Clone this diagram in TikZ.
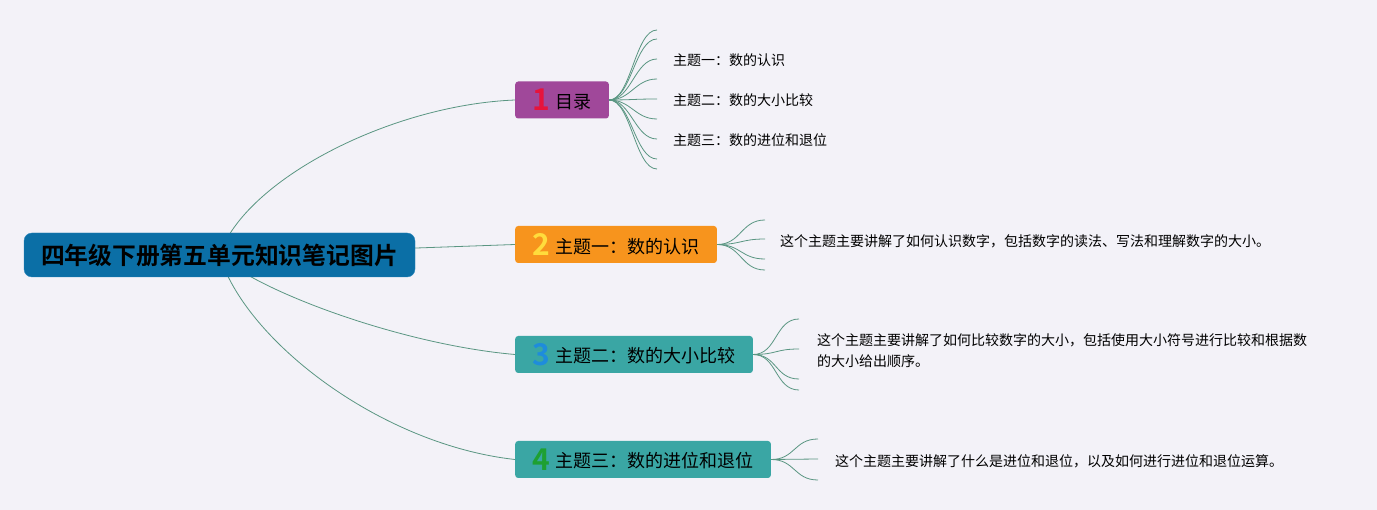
\documentclass[tikz,border=0pt]{standalone}
\usepackage{fontspec}
\setmainfont{Noto Sans CJK SC}[BoldFont={Noto Sans CJK SC Bold}]
\usetikzlibrary{positioning,calc,backgrounds}

\definecolor{bgcol}{HTML}{F3F2F8}
\definecolor{rootblue}{HTML}{0B6FA6}
\definecolor{rootedge}{HTML}{2A86BC}
\definecolor{purp}{HTML}{A0489A}
\definecolor{orng}{HTML}{F7941D}
\definecolor{tealbox}{HTML}{3AA6A4}
\definecolor{linkcol}{HTML}{5A9682}
\definecolor{numred}{HTML}{E6143C}
\definecolor{numyellow}{HTML}{FFDC3C}
\definecolor{numblue}{HTML}{1E8CDC}
\definecolor{numgreen}{HTML}{1EA032}

\tikzset{
  topic/.style={rounded corners=3pt, minimum height=37pt, inner xsep=17pt, inner ysep=0pt,
    anchor=west, font=\fontsize{18}{20}\selectfont},
  leaf/.style={anchor=west, inner sep=0pt, align=left, font=\fontsize{14}{21}\selectfont},
  link/.style={draw=linkcol, line width=0.8pt},
}
\newcommand{\numtag}[2]{\raisebox{-2.5pt}{\color{#1}\fontsize{30}{30}\selectfont\bfseries #2}\hspace{6pt}}

\begin{document}
\begin{tikzpicture}[x=1pt,y=-1pt]
    \useasboundingbox (0,0) rectangle (1377,510);

    % Central topic
    \node[fill=rootblue, draw=rootedge, rounded corners=8pt, minimum height=44pt,
      inner xsep=17pt, inner ysep=0pt, font=\fontsize{23.8}{26}\selectfont\bfseries]
      (root) at (219.5,255) {四年级下册第五单元知识笔记图片};

    % Main branches
    \node[topic, fill=purp] (mulu) at (515,100) {\numtag{numred}{1}目录};
    \node[topic, fill=orng] (renshi) at (515,244.5) {\numtag{numyellow}{2}主题一：数的认识};
    \node[topic, fill=tealbox] (bijiao) at (515,354.5) {\numtag{numblue}{3}主题二：数的大小比较};
    \node[topic, fill=tealbox] (jinwei) at (515,459.5) {\numtag{numgreen}{4}主题三：数的进位和退位};

    % Leaf texts
    \node[leaf] (mulu1) at (673,60) {主题一：数的认识};
    \node[leaf] (mulu2) at (673,100) {主题二：数的大小比较};
    \node[leaf] (mulu3) at (673,140) {主题三：数的进位和退位};
    \node[leaf] (renshitxt) at (780,241) {这个主题主要讲解了如何认识数字，包括数字的读法、写法和理解数字的大小。};
    \node[leaf] (bijiaotxt) at (817,350.5) {这个主题主要讲解了如何比较数字的大小，包括使用大小符号进行比较和根据数\\的大小给出顺序。};
    \node[leaf] (jinweitxt) at (835,461) {这个主题主要讲解了什么是进位和退位，以及如何进行进位和退位运算。};

    % Fans
    \foreach \y [count=\i] in {30,39,59,79,99,119,139,159,169} {
      \coordinate (fa\i) at (657,\y);
      \draw[link] (mulu.east) .. controls +(22,0) and +(-22,0) .. (fa\i);
    }
    \foreach \y [count=\i] in {220,239,259,270} {
      \coordinate (fb\i) at (765,\y);
      \draw[link] (renshi.east) .. controls +(24,0) and +(-24,0) .. (fb\i);
    }
    \foreach \y [count=\i] in {319,349,379,390} {
      \coordinate (fc\i) at (799,\y);
      \draw[link] (bijiao.east) .. controls +(24,0) and +(-24,0) .. (fc\i);
    }
    \foreach \y [count=\i] in {439,459,480} {
      \coordinate (fd\i) at (818,\y);
      \draw[link] (jinwei.east) .. controls +(24,0) and +(-24,0) .. (fd\i);
    }

    % Connectors behind the boxes
    \begin{scope}[on background layer]
      \fill[bgcol] (0,0) rectangle (1377,510);
      \draw[link] (root.center) .. controls +(25.5,-75) and +(-125,5) .. (mulu.west);
      \draw[link] (root.center) -- (renshi.west);
      \draw[link] (root.center) .. controls +(35.5,35) and +(-115,-10) .. (bijiao.west);
      \draw[link] (root.center) .. controls +(25.5,85) and +(-135,-15) .. (jinwei.west);
    \end{scope}
\end{tikzpicture}
\end{document}
